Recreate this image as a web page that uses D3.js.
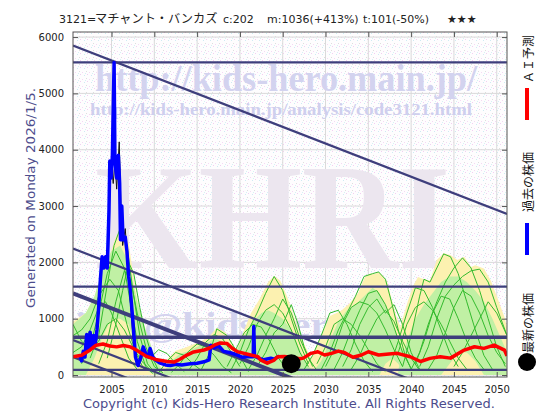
<!DOCTYPE html>
<html>
<head>
<meta charset="utf-8">
<script src="https://cdn.jsdelivr.net/npm/d3@7"></script>
<style>
    body { margin: 0; background: #fff; }
    svg { display: block; }
</style>
</head>
<body>
<svg id="chart" width="560" height="420"></svg>
<script>
// ---- data ----
const yearTicks = [2005, 2010, 2015, 2020, 2025, 2030, 2035, 2040, 2045, 2050];
const priceTicks = [0, 1000, 2000, 3000, 4000, 5000, 6000];

const pastPrice = [
    [2001.3, 330], [2001.5, 250], [2001.7, 420], [2001.9, 320], [2002.1, 720], [2002.3, 450],
    [2002.5, 760], [2002.7, 480], [2002.9, 700], [2003.1, 560], [2003.3, 800], [2003.5, 1200],
    [2003.7, 1700], [2003.9, 2100], [2004.1, 1900], [2004.3, 2100], [2004.5, 1900], [2004.7, 2900],
    [2004.8, 3800], [2004.95, 3500], [2005.1, 3900], [2005.3, 5550], [2005.4, 3800], [2005.6, 3500],
    [2005.8, 3900], [2005.95, 3400], [2006.05, 2400], [2006.2, 3000], [2006.35, 2400], [2006.6, 2450],
    [2006.8, 2200], [2007.0, 1750], [2007.2, 1500], [2007.5, 950], [2007.8, 320], [2008.1, 170],
    [2008.4, 300], [2008.7, 500], [2009.0, 380], [2009.3, 320], [2009.5, 470], [2009.8, 330],
    [2010.1, 270], [2010.7, 210], [2011.3, 180], [2011.9, 170], [2012.5, 190], [2013.2, 180],
    [2014.2, 200], [2015.0, 210], [2015.8, 235], [2016.4, 270], [2016.6, 530], [2017.0, 480],
    [2017.5, 520], [2018.1, 420], [2018.8, 400], [2019.7, 355], [2020.3, 315], [2021.0, 330],
    [2021.55, 325], [2021.62, 860], [2021.7, 340], [2022.2, 300], [2022.8, 270], [2023.6, 300],
    [2024.0, 280], [2024.6, 340]
];

const dailyPrice = [
    [2004.6, 1900], [2004.8, 3300], [2005.0, 3700], [2005.2, 3400], [2005.4, 3800], [2005.6, 3300],
    [2005.9, 4140], [2006.1, 3000], [2006.3, 2300], [2006.6, 2600], [2006.9, 2000], [2007.2, 1300],
    [2007.5, 700], [2007.8, 250], [2008.1, 150]
];

const aiForecast = [
    [2000.5, 325], [2001.5, 350], [2002.5, 445], [2003.2, 530], [2004.0, 550], [2004.8, 515],
    [2005.6, 500], [2006.4, 525], [2007.2, 500], [2007.9, 445], [2008.5, 385], [2009.1, 330],
    [2010.3, 270], [2011.5, 240], [2012.3, 230], [2013.0, 280], [2013.8, 355], [2014.6, 410],
    [2015.8, 445], [2016.4, 475], [2017.0, 530], [2017.7, 570], [2018.5, 560], [2019.1, 475],
    [2019.7, 415], [2020.9, 370], [2022.1, 325], [2022.4, 270], [2023.2, 210], [2024.0, 265],
    [2024.4, 325], [2025.2, 330], [2026.0, 310], [2027.0, 290], [2027.4, 300], [2028.3, 385],
    [2029.1, 413], [2029.9, 355], [2030.7, 385], [2031.5, 425], [2032.2, 400], [2033.2, 315],
    [2034.2, 355], [2035.0, 413], [2036.2, 355], [2037.4, 375], [2038.4, 385], [2039.9, 325],
    [2041.1, 240], [2042.2, 296], [2043.4, 325], [2044.6, 300], [2046.2, 443], [2047.4, 502],
    [2048.5, 473], [2049.7, 532], [2050.9, 443], [2051.2, 340]
];

const latestPrice = [2026.0, 202];

// horizontal support / resistance levels and sloping trend lines (value at 2000.5, value at 2051.2)
const levelLines = [5550, 1570, 670, 90];
const trendLines = [[5850, 2860], [2246, -744], [1449, -1541], [620, -2370], [320, -2670]];

// forecast fans: outer envelope (yellow), inner band (green), single scenario paths
const forecastEnvelope = [
    [[2000.5, 950], [2002, 1100], [2003.5, 1500], [2004.5, 2000], [2005.5, 2450], [2006.1, 2620],
     [2007, 2350], [2007.8, 1500], [2008.7, 900], [2009.6, 500], [2010.5, 200], [2011.5, 30]],
    [[2010.5, 40], [2011.5, 280], [2012.5, 430], [2013.5, 480], [2014.5, 540], [2015.5, 600],
     [2016.5, 700], [2017.3, 840], [2018.3, 760], [2019.3, 500], [2020.3, 250], [2021.2, 60]],
    [[2018.5, 80], [2019.5, 400], [2020.5, 800], [2021.3, 1100], [2022.3, 1350], [2023.3, 1650],
     [2024, 1760], [2024.7, 1680], [2025.5, 1400], [2026.3, 1050], [2027.2, 650], [2028.3, 300], [2029.3, 60]],
    [[2027.5, 80], [2028.5, 350], [2029.5, 700], [2030.5, 1050], [2031.3, 1100], [2031.9, 1150],
     [2032.8, 1270], [2033.8, 1450], [2034.6, 1740], [2035.2, 1800], [2035.8, 1800], [2036.2, 1830],
     [2036.8, 1740], [2037.2, 1650], [2037.7, 1360], [2038.3, 1030], [2038.9, 800], [2039.5, 600],
     [2040.3, 300], [2041, 80]],
    [[2037.3, 100], [2038.3, 600], [2039, 1000], [2039.6, 1300], [2040.3, 1600], [2040.8, 1740],
     [2041.5, 1700], [2042.2, 1680], [2043, 2040], [2043.8, 2160], [2044.6, 2130], [2045.4, 2040],
     [2046.2, 2100], [2047, 1920], [2047.5, 1950], [2048.5, 1890], [2049.3, 1680], [2050.1, 1360],
     [2050.9, 1030], [2051.2, 850]]
];

const forecastBand = [
    [[2000.5, 0, 900], [2002, 0, 1100], [2003, 300, 1400], [2004, 700, 1900], [2005, 1000, 2200],
     [2006, 1000, 2300], [2007, 900, 2000], [2008, 400, 1300], [2009, 100, 800], [2010, 0, 350], [2011, 0, 50]],
    [[2011, 0, 40], [2012, 0, 250], [2013, 0, 380], [2014, 0, 420], [2015, 0, 500], [2016, 0, 560],
     [2017, 0, 650], [2018, 0, 600], [2019, 0, 400], [2020, 0, 200], [2021, 0, 50]],
    [[2018.5, 0, 100], [2019.5, 0, 400], [2020.5, 0, 700], [2021.5, 0, 950], [2022.5, 0, 1100],
     [2023.3, 0, 1150], [2024, 0, 1100], [2025, 0, 1000], [2026, 0, 800], [2027, 0, 450], [2028, 0, 150], [2029, 0, 30]],
    [[2028.5, 0, 50], [2029.5, 0, 250], [2030.5, 0, 600], [2031.5, 0, 950], [2032.5, 0, 1150],
     [2033.5, 0, 1250], [2034.5, 0, 1400], [2035.5, 0, 1550], [2036.3, 0, 1450], [2037, 200, 1250],
     [2037.8, 300, 950], [2038.5, 200, 650], [2039.3, 0, 350], [2040.2, 0, 100]],
    [[2038.5, 0, 100], [2039.5, 0, 600], [2040.5, 0, 1000], [2041.5, 0, 1250], [2042.5, 0, 1450],
     [2043.5, 0, 1650], [2044.5, 200, 1750], [2045.5, 400, 1750], [2046.5, 400, 1650], [2047.5, 250, 1500],
     [2048.5, 0, 1300], [2049.5, 0, 1000], [2050.5, 0, 650], [2051.2, 0, 400]]
];

const forecastPaths = [
    // around 2006
    [[2002.5, 300], [2003.5, 700], [2004.5, 1600], [2005.3, 2300], [2006.0, 2600], [2006.8, 2300], [2007.5, 1500], [2008.3, 700], [2009.2, 200], [2010, 50]],
    [[2001.5, 200], [2002.5, 500], [2003.5, 1100], [2004.5, 1800], [2005.5, 2200], [2006.5, 1900], [2007.3, 1200], [2008, 600], [2009, 150], [2009.8, 30]],
    [[2000.5, 700], [2001.5, 800], [2002.5, 1000], [2003.5, 1400], [2004.8, 1700], [2005.8, 1500], [2006.8, 900], [2007.8, 400], [2008.8, 100]],
    [[2003.5, 200], [2004.5, 600], [2005.5, 1300], [2006.5, 1850], [2007.2, 1700], [2008, 1100], [2009, 500], [2010, 150], [2011, 40]],
    [[2000.5, 900], [2001.5, 600], [2002.5, 450], [2003.5, 600], [2004.5, 900], [2005.5, 1000], [2006.5, 800], [2007.5, 500], [2008.5, 250], [2009.5, 100]],
    [[2000.5, 400], [2001.5, 500], [2002.5, 800], [2003.5, 1200], [2004.3, 1300], [2005, 1100], [2006, 700], [2007, 300], [2008, 100]],
    [[2004.5, 300], [2005.5, 900], [2006.3, 1500], [2007, 2000], [2007.6, 1800], [2008.3, 1200], [2009, 700], [2009.8, 300], [2010.5, 80]],
    // around 2015
    [[2010.5, 40], [2011.5, 250], [2012.5, 400], [2013.5, 350], [2014.5, 200], [2015.5, 80]],
    [[2012, 50], [2013, 200], [2014, 420], [2015, 550], [2016, 500], [2017, 350], [2018, 150], [2019, 40]],
    [[2014, 80], [2015, 300], [2016, 580], [2017, 720], [2018, 640], [2019, 400], [2020, 150]],
    [[2015.5, 100], [2016.5, 400], [2017.3, 820], [2018.5, 700], [2019.5, 450], [2020.5, 200], [2021, 60]],
    [[2009.5, 300], [2010.5, 450], [2011.5, 380], [2012.5, 200], [2013.5, 60]],
    // around 2024
    [[2019, 100], [2020, 400], [2021, 800], [2022, 1100], [2023, 1450], [2024, 1750], [2025, 1500], [2026, 1000], [2027, 550], [2028, 200]],
    [[2020, 200], [2021, 500], [2022, 900], [2023, 1150], [2024, 1250], [2025, 1100], [2026, 800], [2027, 400], [2028, 150]],
    [[2018.5, 150], [2019.5, 450], [2020.5, 750], [2021.5, 900], [2022.5, 850], [2023.5, 600], [2024.5, 300], [2025.5, 100]],
    [[2021, 100], [2022, 350], [2023, 700], [2024, 1000], [2025, 1350], [2026, 1100], [2027, 650], [2028, 300], [2029, 80]],
    [[2022, 150], [2023, 400], [2024, 750], [2025, 900], [2026, 1250], [2026.8, 900], [2027.5, 500], [2028.5, 150]],
    // around 2035
    [[2029.5, 100], [2030.5, 400], [2031.5, 800], [2032.5, 1100], [2033.5, 1400], [2034.5, 1750], [2035.5, 1800], [2036.2, 1830], [2037, 1700], [2037.7, 1300], [2038.5, 800], [2039.3, 350], [2040, 100]],
    [[2030, 150], [2031, 450], [2032, 900], [2033, 1200], [2034, 1300], [2035, 1250], [2036, 1100], [2037, 800], [2038, 450], [2039, 150]],
    [[2031, 100], [2032, 400], [2033, 800], [2034, 1150], [2035, 1450], [2036, 1500], [2037, 1250], [2038, 850], [2039, 400], [2040, 120]],
    [[2029, 200], [2030, 500], [2031, 900], [2032, 1000], [2033, 900], [2034, 700], [2035, 450], [2036, 200], [2037, 60]],
    [[2032, 150], [2033, 450], [2034, 900], [2035, 1200], [2036, 1350], [2037, 1100], [2038, 1250], [2039, 900], [2040, 400], [2041, 100]],
    [[2027.5, 100], [2028.5, 350], [2029.5, 700], [2030.5, 1100], [2031.5, 1150], [2032.5, 900], [2033.5, 550], [2034.5, 250], [2035.5, 60]],
    [[2033, 100], [2034, 350], [2035, 700], [2036, 1000], [2037, 1150], [2038, 950], [2039, 600], [2040, 300], [2041, 80]],
    // around 2045
    [[2039, 150], [2040, 700], [2041, 1400], [2041.5, 1700], [2042.2, 1650], [2043, 1900], [2043.8, 2150], [2044.6, 2100], [2045.5, 1800], [2046.5, 1300], [2047.5, 800], [2048.5, 350], [2049.5, 100]],
    [[2040, 100], [2041, 400], [2042, 900], [2043, 1300], [2044, 1650], [2045, 1900], [2046, 2080], [2047, 1900], [2048, 1500], [2049, 1000], [2050, 500], [2051, 150]],
    [[2041, 150], [2042, 500], [2043, 1000], [2044, 1400], [2045, 1600], [2046, 1750], [2047, 1850], [2048, 1880], [2049, 1650], [2050, 1200], [2051.2, 700]],
    [[2038.5, 400], [2039.5, 900], [2040.5, 1200], [2041.5, 1300], [2042.5, 1150], [2043.5, 900], [2044.5, 600], [2045.5, 300], [2046.5, 100]],
    [[2042, 100], [2043, 350], [2044, 750], [2045, 1200], [2046, 1500], [2047, 1400], [2048, 1100], [2049, 700], [2050, 400], [2051, 200]],
    [[2040.5, 200], [2041.5, 600], [2042.5, 1100], [2043.5, 1400], [2044.5, 1350], [2045.5, 1000], [2046.5, 600], [2047.5, 300], [2048.5, 100]],
    [[2045, 150], [2046, 400], [2047, 700], [2048, 1000], [2049, 1300], [2050, 1100], [2051.2, 700]],
    [[2037.5, 150], [2038.5, 600], [2039.5, 1100], [2040.5, 1550], [2041.5, 1500], [2042.5, 1200], [2043.5, 800], [2044.5, 400], [2045.5, 150]]
];

// ---- drawing ----
const svg = d3.select('#chart');
const margin = {top: 32, right: 53, bottom: 43, left: 73};
const width = 560 - margin.left - margin.right;
const height = 420 - margin.top - margin.bottom;

const x = d3.scaleLinear().domain([2000.5, 2051.2]).range([0, width]);
const y = d3.scaleLinear().domain([-35, 6090]).range([height, 0]);

const defs = svg.append('defs');
defs.append('clipPath').attr('id', 'plot-clip')
    .append('rect').attr('width', width).attr('height', height);

// speckled background like the original bitmap
const noise = defs.append('pattern')
    .attr('id', 'noise')
    .attr('width', 7).attr('height', 7)
    .attr('patternUnits', 'userSpaceOnUse');
noise.append('rect').attr('width', 7).attr('height', 7).attr('fill', '#fefdfe');
[[0, 0, '#f2cff2'], [4, 1, '#cdebf3'], [6, 4, '#dedede'], [2, 5, '#f5d9f5'], [5, 6, '#d6f0f5']]
    .forEach(p => noise.append('rect').attr('x', p[0]).attr('y', p[1]).attr('width', 1).attr('height', 1).attr('fill', p[2]));

const g = svg.append('g').attr('transform', `translate(${margin.left},${margin.top})`);

g.append('rect').attr('width', width).attr('height', height).attr('fill', 'url(#noise)');

// grid
g.append('g').selectAll('line').data(yearTicks).enter().append('line')
    .attr('x1', d => x(d)).attr('x2', d => x(d)).attr('y1', 0).attr('y2', height)
    .attr('stroke', '#dadada').attr('stroke-width', 1);
g.append('g').selectAll('line').data(priceTicks).enter().append('line')
    .attr('x1', 0).attr('x2', width).attr('y1', d => y(d)).attr('y2', d => y(d))
    .attr('stroke', '#dadada').attr('stroke-width', 1);

const plot = g.append('g').attr('clip-path', 'url(#plot-clip)');

// watermarks
const wm = plot.append('g').attr('font-family', '"Liberation Serif", "DejaVu Serif", serif').attr('font-weight', 'bold');
wm.append('text').attr('x', 22).attr('y', 59).attr('font-size', '38px')
    .attr('textLength', 382).attr('lengthAdjust', 'spacingAndGlyphs')
    .attr('fill', '#d3d3ef').text('http://kids-hero.main.jp/');
wm.append('text').attr('x', 17).attr('y', 83).attr('font-size', '17px')
    .attr('textLength', 382).attr('lengthAdjust', 'spacingAndGlyphs')
    .attr('fill', '#cfcfee').text('http://kids-hero.main.jp/analysis/code3121.html');
wm.append('text').attr('x', 22).attr('y', 236).attr('font-size', '150px')
    .attr('textLength', 355).attr('lengthAdjust', 'spacingAndGlyphs')
    .attr('fill', '#ece6ef').text('KHRI');
wm.append('text').attr('x', 2).attr('y', 304).attr('font-size', '34px')
    .attr('textLength', 420).attr('lengthAdjust', 'spacingAndGlyphs')
    .attr('fill', '#d3d3ee').text('info@kids-hero.main.jp');

// forecast fans
const area = d3.area().x(d => x(d[0])).y0(y(0)).y1(d => y(d[1]));
const band = d3.area().x(d => x(d[0])).y0(d => y(d[1])).y1(d => y(d[2]));
const line = d3.line().x(d => x(d[0])).y(d => y(d[1]));

plot.append('g').selectAll('path').data(forecastEnvelope).enter().append('path')
    .attr('d', area).attr('fill', '#fcf1b0');
plot.append('g').selectAll('path').data(forecastBand).enter().append('path')
    .attr('d', band).attr('fill', '#c0f0a4');
plot.append('g').selectAll('path').data(forecastPaths).enter().append('path')
    .attr('d', line).attr('fill', 'none').attr('stroke', '#34bb2e').attr('stroke-width', 1);

// level + trend lines
plot.append('g').selectAll('line').data(levelLines).enter().append('line')
    .attr('x1', 0).attr('x2', width).attr('y1', d => y(d)).attr('y2', d => y(d))
    .attr('stroke', '#3e3e7c').attr('stroke-width', d => d === 670 ? 3.5 : 2.2);
plot.append('g').selectAll('line').data(trendLines).enter().append('line')
    .attr('x1', x(2000.5)).attr('x2', x(2051.2))
    .attr('y1', d => y(d[0])).attr('y2', d => y(d[1]))
    .attr('stroke', '#3e3e7c').attr('stroke-width', (d, i) => i === 2 ? 4 : 2.2);

// prices
plot.append('path').datum(dailyPrice).attr('d', line)
    .attr('fill', 'none').attr('stroke', '#111').attr('stroke-width', 1);
plot.append('path').datum(pastPrice).attr('d', line)
    .attr('fill', 'none').attr('stroke', '#0000ff').attr('stroke-width', 3.5).attr('stroke-linejoin', 'round');
plot.append('path').datum(aiForecast).attr('d', line)
    .attr('fill', 'none').attr('stroke', '#ff0000').attr('stroke-width', 3.5).attr('stroke-linejoin', 'round');
plot.append('circle')
    .attr('cx', x(latestPrice[0])).attr('cy', y(latestPrice[1])).attr('r', 9.5).attr('fill', '#000');

// frame + ticks
g.append('rect').attr('width', width).attr('height', height)
    .attr('fill', 'none').attr('stroke', '#555').attr('stroke-width', 1);

const xAxis = d3.axisBottom(x).tickValues(yearTicks).tickSize(-5).tickPadding(9).tickFormat(d3.format('d'));
const xAxisTop = d3.axisTop(x).tickValues(yearTicks).tickSize(-5).tickFormat('');
const yAxis = d3.axisLeft(y).tickValues(priceTicks).tickSize(-5).tickPadding(9).tickFormat(d3.format('d'));
const yAxisRight = d3.axisRight(y).tickValues(priceTicks).tickSize(-5).tickFormat('');

[
    g.append('g').attr('transform', `translate(0,${height})`).call(xAxis),
    g.append('g').call(xAxisTop),
    g.append('g').call(yAxis),
    g.append('g').attr('transform', `translate(${width},0)`).call(yAxisRight)
].forEach(ax => {
    ax.select('.domain').remove();
    ax.selectAll('line').attr('stroke', '#555');
    ax.selectAll('text').attr('font-family', '"DejaVu Sans", sans-serif').attr('font-size', '10px').attr('fill', '#222');
});

// title
const title = svg.append('g').attr('font-family', '"DejaVu Sans", "Noto Sans CJK JP", sans-serif').attr('fill', '#222');
title.append('text').attr('x', 59).attr('y', 23).attr('font-size', '11px').text('3121=');
title.append('text').attr('x', 95).attr('y', 23).attr('font-size', '12.2px')
    .attr('font-family', '"Noto Sans CJK JP", sans-serif').text('マチャント・バンカズ');
title.append('text').attr('x', 223).attr('y', 23).attr('font-size', '11px').text('c:202');
title.append('text').attr('x', 267).attr('y', 23).attr('font-size', '11px').text('m:1036(+413%)');
title.append('text').attr('x', 363).attr('y', 23).attr('font-size', '11px').text('t:101(-50%)');
title.append('text').attr('x', 447).attr('y', 23).attr('font-size', '11px')
    .attr('font-family', '"DejaVu Sans", sans-serif').text('★★★');

// side labels
svg.append('text')
    .attr('transform', 'translate(35,308) rotate(-90)')
    .attr('font-family', '"DejaVu Sans", sans-serif').attr('font-size', '12.5px')
    .attr('textLength', 220).attr('lengthAdjust', 'spacingAndGlyphs')
    .attr('fill', '#4c4c8c')
    .text('Generated on Monday 2026/1/5.');

svg.append('text')
    .attr('x', 289).attr('y', 408).attr('text-anchor', 'middle')
    .attr('font-family', '"DejaVu Sans", sans-serif').attr('font-size', '13px')
    .attr('fill', '#4c4c8c')
    .text('Copyright (c) Kids-Hero Research Institute. All Rights Reserved.');

// legend (vertical, read bottom to top)
const legend = svg.append('g').attr('font-family', '"Noto Sans CJK JP", sans-serif').attr('font-size', '12px').attr('fill', '#111');
legend.append('text').attr('transform', 'translate(533,83) rotate(-90)').text('ＡＩ予測');
legend.append('line').attr('x1', 527).attr('x2', 527).attr('y1', 88).attr('y2', 120)
    .attr('stroke', '#ff0000').attr('stroke-width', 4);
legend.append('text').attr('transform', 'translate(533,212) rotate(-90)').text('過去の株価');
legend.append('line').attr('x1', 527).attr('x2', 527).attr('y1', 223).attr('y2', 255)
    .attr('stroke', '#0000ff').attr('stroke-width', 4);
legend.append('text').attr('transform', 'translate(533,353) rotate(-90)').text('最新の株価');
legend.append('circle').attr('cx', 527).attr('cy', 362).attr('r', 9).attr('fill', '#000');
</script>
</body>
</html>
